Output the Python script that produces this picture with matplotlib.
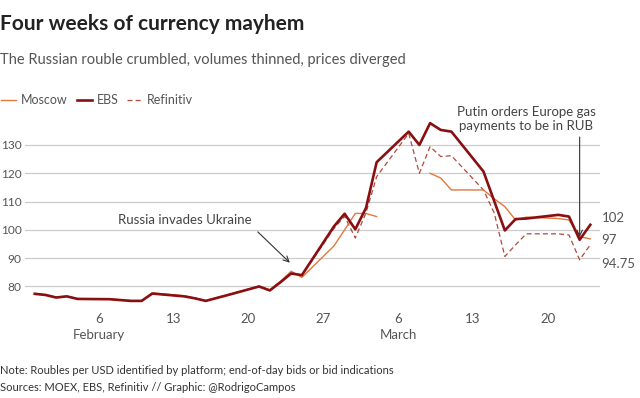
import numpy as np
import pandas as pd
import matplotlib as mpl
import matplotlib.pyplot as plt

mpl.rc('font', family=['Lato', 'DejaVu Sans'])

# trading days shown in the chart
dates = pd.to_datetime([
    '2022-01-31', '2022-02-01', '2022-02-02', '2022-02-03', '2022-02-04',
    '2022-02-07', '2022-02-08', '2022-02-09', '2022-02-10', '2022-02-11',
    '2022-02-14', '2022-02-15', '2022-02-16', '2022-02-17', '2022-02-18',
    '2022-02-21', '2022-02-22', '2022-02-23', '2022-02-24', '2022-02-25',
    '2022-02-28', '2022-03-01', '2022-03-02', '2022-03-03', '2022-03-04',
    '2022-03-07', '2022-03-08', '2022-03-09', '2022-03-10', '2022-03-11',
    '2022-03-14', '2022-03-15', '2022-03-16', '2022-03-17', '2022-03-18',
    '2022-03-21', '2022-03-22', '2022-03-23', '2022-03-24',
])

nan = np.nan
ebs = [77.4, 77.0, 76.1, 76.5, 75.6,
       75.5, 75.2, 74.9, 74.9, 77.5,
       76.5, 75.8, 74.9, 75.9, 76.9,
       80.0, 78.6, 81.5, 84.6, 84.0,
       101.2, 105.7, 100.2, 107.7, 123.9,
       134.7, 130.0, 137.7, 135.3, 134.7,
       120.6, 110.2, 99.8, 103.8, 104.0,
       105.3, 104.7, 96.5, 101.8]
moscow = [77.5, 77.1, 76.2, 76.6, 75.7,
          75.6, 75.3, 75.0, 75.0, 77.7,
          76.7, 75.9, 75.0, 76.0, 77.0,
          80.1, 78.8, 81.8, 85.4, 83.2,
          94.3, 100.0, 105.8, 105.8, 104.7,
          nan, nan, 120.0, 118.3, 114.1,
          114.1, 111.0, 108.2, 103.5, 104.5,
          104.0, 103.5, 97.6, 96.8]
refinitiv = [77.4, 77.0, 76.1, 76.5, 75.6,
             75.5, 75.2, 74.9, 74.9, 77.4,
             76.5, 75.8, 74.9, 75.9, 76.9,
             80.0, 78.6, 81.5, 84.5, 83.9,
             100.5, 104.8, 97.1, 106.0, 118.8,
             134.1, 120.0, 129.4, 125.9, 126.2,
             114.1, 106.0, 90.6, 94.7, 98.6,
             98.6, 98.2, 89.4, 94.75]

tick_dates = pd.to_datetime(['2022-02-06', '2022-02-13', '2022-02-20', '2022-02-27',
                             '2022-03-06', '2022-03-13', '2022-03-20'])
tick_labels = ['6\nFebruary', '13', '20', '27', '6\nMarch', '13', '20']
yticks = [80, 90, 100, 110, 120, 130]
end_labels = ['102', '97', '94.75']
end_label_y = [104.2, 96.5, 88.0]

c_ebs = '#8a0f12'
c_moscow = '#e2783c'
c_ref = '#b04a3a'
grey = '#555555'

fig = plt.figure(figsize=(6.4, 3.98), dpi=100)
ax = fig.add_axes([0.039, 0.234, 0.898, 0.49])

ax.plot(dates, moscow, color=c_moscow, lw=1.0, label='Moscow', zorder=3)
ax.plot(dates, refinitiv, color=c_ref, lw=0.9, ls=(0, (4, 2.5)), label='Refinitiv', zorder=2)
ax.plot(dates, ebs, color=c_ebs, lw=1.9, label='EBS', zorder=4)

left = pd.Timestamp('2022-01-30') + pd.Timedelta(hours=2)
right = pd.Timestamp('2022-03-24') + pd.Timedelta(hours=21)
ax.set_xlim(left, right)
ax.set_ylim(73.5, 142.4)

ax.set_yticks(yticks)
ax.set_xticks(tick_dates)
ax.set_xticklabels(tick_labels, linespacing=1.35)
ax.grid(axis='y', color='#cccccc', lw=0.9)
ax.set_axisbelow(True)
for s in ax.spines.values():
    s.set_visible(False)
ax.tick_params(length=0, labelsize=9.5, labelcolor=grey)
ax.tick_params(axis='x', pad=6)
ax.tick_params(axis='y', pad=2.5, labelsize=8.6)

# end-of-series labels
for lab, yv in zip(end_labels, end_label_y):
    ax.annotate(lab, xy=(1.003, yv), xycoords=('axes fraction', 'data'),
                fontsize=9.5, color=grey, va='center', ha='left')

arrow = dict(arrowstyle='->', color='#333333', lw=0.8, shrinkA=0, shrinkB=0)
ax.annotate('', xy=(pd.Timestamp('2022-02-23 21:00'), 88.4),
            xytext=(pd.Timestamp('2022-02-20 21:00'), 99.3), arrowprops=arrow)
ax.text(pd.Timestamp('2022-02-14 01:00'), 103.6, 'Russia invades Ukraine',
        fontsize=9.5, color='#444444', ha='center', va='center')
ax.annotate('', xy=(pd.Timestamp('2022-03-23'), 97.5),
            xytext=(pd.Timestamp('2022-03-23'), 132.8), arrowprops=arrow)
ax.text(pd.Timestamp('2022-03-18'), 139.0, 'Putin orders Europe gas\npayments to be in RUB',
        fontsize=9.5, color='#444444', ha='center', va='center', linespacing=1.2)

# legend
handles, labels = ax.get_legend_handles_labels()
order = [0, 2, 1]
fig.legend([handles[i] for i in order], [labels[i] for i in order],
           loc='center left', bbox_to_anchor=(-0.012, 0.748), ncol=3, frameon=False,
           fontsize=9, labelcolor=grey, handlelength=1.2, handletextpad=0.4,
           columnspacing=0.7, borderpad=0.2)

fig.text(0.0, 0.94, 'Four weeks of currency mayhem', fontsize=15, fontweight='bold',
         color='#222222', ha='left', va='center')
fig.text(0.0, 0.848, 'The Russian rouble crumbled, volumes thinned, prices diverged',
         fontsize=10.5, color=grey, ha='left', va='center')
fig.text(0.0, 0.07, 'Note: Roubles per USD identified by platform; end-of-day bids or bid indications',
         fontsize=8, color='#333333', ha='left', va='center')
fig.text(0.0, 0.027, 'Sources: MOEX, EBS, Refinitiv // Graphic: @RodrigoCampos',
         fontsize=8, color='#333333', ha='left', va='center')

fig.savefig('out.png', dpi=100, facecolor='w')
